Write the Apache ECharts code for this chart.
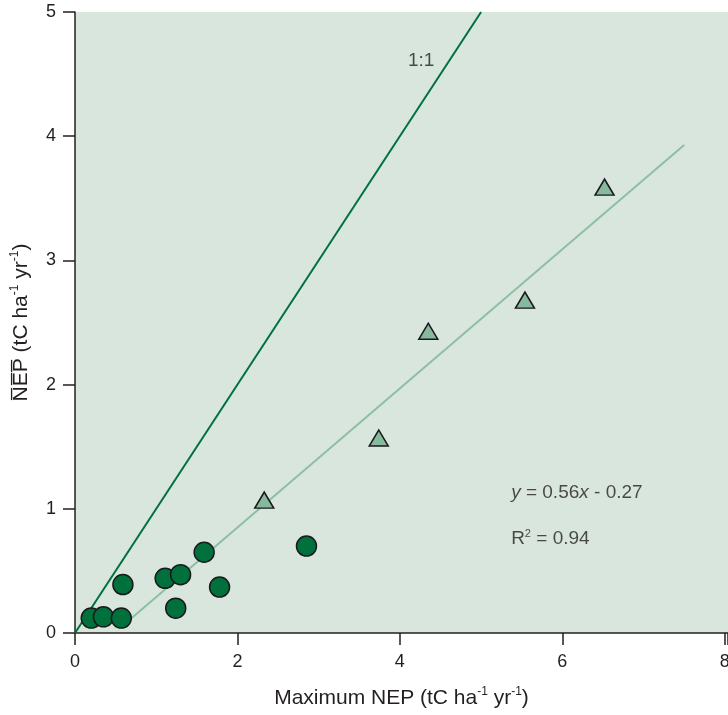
<!DOCTYPE html>
<html><head><meta charset="utf-8">
<script src="https://cdn.jsdelivr.net/npm/echarts@6/dist/echarts.min.js"></script>
<style>html,body{margin:0;padding:0;background:#fff}#c{width:728px;height:715px}</style>
</head><body><div id="c"></div>
<script>
// Circles (dark green sites)
const circleX = [0.20, 0.35, 0.57, 0.59, 1.11, 1.30, 1.24, 1.59, 1.78, 2.85];
const circleY = [0.12, 0.13, 0.12, 0.39, 0.44, 0.47, 0.20, 0.65, 0.37, 0.70];
// Triangles (light green sites)
const triX = [2.33, 3.74, 4.35, 5.54, 6.52];
const triY = [1.07, 1.57, 2.43, 2.68, 3.59];
// Reference lines
const oneToOneX = [0, 5];
const oneToOneY = [0, 5];
const fitX = [0.58, 7.5];
const fitY = [0.055, 3.93];
// Annotation anchors
const labelOneToOne = {x: 4.10, y: 4.61, text: '1:1'};
const labelEq = {x: 5.37, y: 1.127};
const labelR2 = {x: 5.37, y: 0.757};
const xTicks = [0, 2, 4, 6, 8];
const yTicks = [0, 1, 2, 3, 4, 5];

const txt = '#231f20';
const ff = 'Liberation Sans';
const zip = (a, b) => a.map((v, i) => [v, b[i]]);
const nameRich = {
  m: {fontSize: 21, color: txt, fontFamily: ff, lineHeight: 25},
  s: {fontSize: 12, color: txt, fontFamily: ff, verticalAlign: 'top', lineHeight: 25}
};
const chart = echarts.init(document.getElementById('c'));
chart.setOption({
  animation: false,
  grid: {left: 75, top: 12, right: 0, bottom: 82, show: true, backgroundColor: '#d9e6dd', borderWidth: 0,
    containLabel: false, outerBoundsMode: 'none'},
  xAxis: {
    type: 'value', min: 0, max: 8.04, interval: 2,
    axisLine: {show: true, lineStyle: {color: txt, width: 1.5}},
    axisTick: {show: true, length: 12, lineStyle: {color: txt, width: 1.5}},
    axisLabel: {margin: 20, fontSize: 18, color: txt, fontFamily: ff, hideOverlap: false,
      formatter: v => xTicks.includes(v) ? String(v) : ''},
    splitLine: {show: false},
    name: '{m|Maximum NEP (tC ha}{s|-1}{m| yr}{s|-1}{m|)}',
    nameLocation: 'middle', nameGap: 53,
    nameTextStyle: {rich: nameRich}
  },
  yAxis: {
    type: 'value', min: 0, max: 5, interval: 1,
    axisLine: {show: true, lineStyle: {color: txt, width: 1.5}},
    axisTick: {show: true, length: 12, lineStyle: {color: txt, width: 1.5}},
    axisLabel: {margin: 19, fontSize: 18, color: txt, fontFamily: ff,
      formatter: v => yTicks.includes(v) ? String(v) : ''},
    splitLine: {show: false},
    name: '{m|N\u0305E\u0305P\u0305 (tC ha}{s|-1}{m| yr}{s|-1}{m|)}',
    nameLocation: 'middle', nameGap: 41, nameRotate: 90,
    nameTextStyle: {rich: nameRich}
  },
  series: [
    {type: 'line', data: zip(oneToOneX, oneToOneY), symbol: 'none', silent: true,
      lineStyle: {color: '#00703c', width: 2}, z: 2},
    {type: 'line', data: zip(fitX, fitY), symbol: 'none', silent: true,
      lineStyle: {color: '#8cbfa3', width: 2}, z: 2},
    {type: 'scatter', data: zip(circleX, circleY), symbol: 'circle', symbolSize: 20,
      itemStyle: {color: '#00703c', borderColor: '#1a1a1a', borderWidth: 1.5, opacity: 1}, z: 3},
    {type: 'scatter', data: zip(triX, triY), symbol: 'triangle', symbolSize: [19, 16],
      itemStyle: {color: '#86b99e', borderColor: '#1a1a1a', borderWidth: 1.5, opacity: 1}, z: 3},
    {type: 'scatter', symbolSize: 0, silent: true, z: 4,
      data: [
        {value: [labelOneToOne.x, labelOneToOne.y], label: {formatter: '{n|' + labelOneToOne.text + '}'}},
        {value: [labelEq.x, labelEq.y], label: {formatter: '{i|y}{n| = 0.56}{i|x}{n| - 0.27}'}},
        {value: [labelR2.x, labelR2.y], label: {formatter: '{n|R}{s|2}{n| = 0.94}'}}
      ],
      label: {show: true, position: 'right', distance: 0, color: txt, fontSize: 19, fontFamily: ff,
        rich: {
          n: {fontSize: 19, color: txt, fontFamily: ff, lineHeight: 22},
          i: {fontSize: 19, color: txt, fontFamily: ff, fontStyle: 'italic', lineHeight: 22},
          s: {fontSize: 11, color: txt, fontFamily: ff, verticalAlign: 'top', lineHeight: 22}
        }}
    }
  ]
});
</script></body></html>
